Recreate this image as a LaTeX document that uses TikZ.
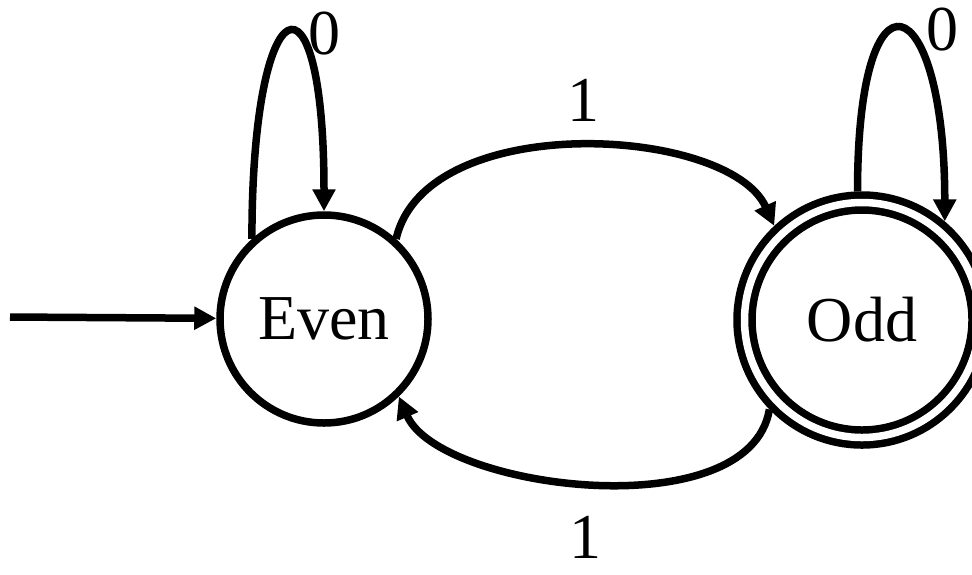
\documentclass[tikz,border=0pt]{standalone}
\usepackage{fontspec}
\setmainfont{Liberation Serif}
\usetikzlibrary{arrows.meta}

\begin{document}
\begin{tikzpicture}[x=0.5pt, y=-0.5pt, >={Triangle[length=11pt,width=11pt]},
    every node/.style={font=\fontsize{32}{38}\selectfont},
    state/.style={circle, draw, line width=3.75pt, inner sep=0pt, minimum size=104pt},
    accept/.style={state, double, double distance=3.75pt, minimum size=117.5pt, outer sep=5.625pt},
    trans/.style={->, line width=3.75pt},
    lbl/.style={inner sep=0pt}]
    \useasboundingbox (0,0) rectangle (972,574);

    \node[state]  (even) at (324,319) {Even};
    \node[accept] (odd)  at (862,320) {Odd};
    \coordinate (start) at (10,317);

    \draw[trans] (start) -- (even);

    % self loops
    \draw[trans] (even.132) .. controls +(0,-256) and +(0,-256) .. (even.90)
        node[lbl, pos=0.5, right=8.5pt] {0};
    \draw[trans] (odd.92) .. controls +(0,-236) and +(0,-236) .. (odd.50)
        node[lbl, pos=0.5, right=11pt] {0};

    % between the states
    \draw[trans] (even.48) .. controls +(30,-130) and +(-45,-100) .. (odd.133)
        node[lbl, pos=0.5, above=10.5pt, xshift=2pt] {1};
    \draw[trans] (odd.224) .. controls +(-20,120) and +(40,93) .. (even.-46)
        node[lbl, pos=0.5, below=15pt, xshift=-3pt] {1};
\end{tikzpicture}
\end{document}
